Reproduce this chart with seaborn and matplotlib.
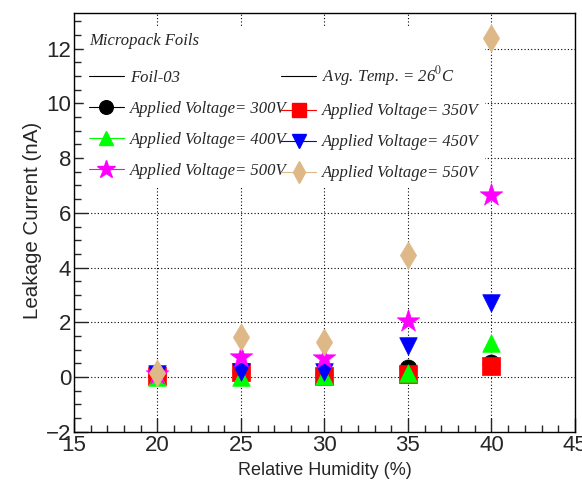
import matplotlib
matplotlib.use("Agg")
import matplotlib.pyplot as plt
import seaborn as sns
import pandas as pd
from matplotlib.lines import Line2D
from matplotlib.ticker import MultipleLocator

sns.set_theme(style="white")
plt.rcParams['font.family'] = ['Liberation Sans', 'DejaVu Sans']
plt.rcParams['mathtext.fontset'] = 'stix'

humidity = [20, 25, 30, 35, 40]
v300 = [0.05, 0.20, 0.10, 0.35, 0.50]
v350 = [0.05, 0.20, 0.05, 0.10, 0.40]
v400 = [0.00, 0.00, 0.05, 0.15, 1.25]
v450 = [0.10, 0.20, 0.20, 1.15, 2.70]
v500 = [0.10, 0.75, 0.70, 2.05, 6.65]
v550 = [0.15, 1.45, 1.30, 4.45, 12.40]

labels = ["Applied Voltage= 300V", "Applied Voltage= 350V", "Applied Voltage= 400V",
          "Applied Voltage= 450V", "Applied Voltage= 500V", "Applied Voltage= 550V"]
series = [v300, v350, v400, v450, v500, v550]
colors = ["black", "#ff0000", "#00ff00", "#0000ff", "#ff00ff", "#deb887"]
markers = ["o", "s", "^", "v", "*", "d"]
sizes = [150, 170, 160, 160, 290, 190]

fig = plt.figure(figsize=(5.82, 4.82), dpi=100)
ax = fig.add_axes([0.127, 0.104, 0.861, 0.869])

handles = {}
for lab, vals, c, m, s in zip(labels, series, colors, markers, sizes):
    df = pd.DataFrame({"x": humidity, "y": vals})
    sns.scatterplot(data=df, x="x", y="y", ax=ax, color=c, marker=m, s=s,
                    edgecolor=c, linewidth=0.5, legend=False, zorder=3)
    handles[lab] = Line2D([], [], color=c, marker=m, markersize=(s ** 0.5) * 0.8,
                          linewidth=0.8, markeredgecolor=c)

ax.set_xlim(15, 45)
ax.set_ylim(-2, 13.3)
ax.xaxis.set_major_locator(MultipleLocator(5))
ax.xaxis.set_minor_locator(MultipleLocator(1))
ax.yaxis.set_major_locator(MultipleLocator(2))
ax.yaxis.set_minor_locator(MultipleLocator(0.5))
ax.tick_params(axis='both', which='major', direction='in', length=10, width=1,
               labelsize=16, bottom=True, left=True, top=False, right=False, pad=2)
ax.tick_params(axis='both', which='minor', direction='in', length=5, width=1,
               bottom=True, left=True, top=False, right=False)
ax.grid(True, which='major', linestyle=(0, (1, 2)), color='black', linewidth=0.8)
ax.set_axisbelow(True)
for sp in ax.spines.values():
    sp.set_color('black')
    sp.set_linewidth(1.0)

ax.set_xlabel("Relative Humidity (%)", fontsize=13, labelpad=0)
ax.xaxis.set_label_coords(0.5, -0.072)
ax.set_ylabel("Leakage Current (nA)", fontsize=14.8)
ax.yaxis.set_label_coords(-0.064, 0.505)

blank = Line2D([], [], color='black', linewidth=0.8)
order_h = [blank, handles[labels[0]], handles[labels[2]], handles[labels[4]],
           Line2D([], [], color='black', linewidth=0.8), handles[labels[1]], handles[labels[3]], handles[labels[5]]]
order_l = ["Foil-03", labels[0], labels[2], labels[4],
           r"Avg. Temp. = 26$^{0}$C", labels[1], labels[3], labels[5]]
leg = ax.legend(order_h, order_l, ncol=2, loc='upper left', bbox_to_anchor=(0.01, 0.975),
                title="Micropack Foils", alignment='left', frameon=True,
                prop={'family': 'Liberation Serif', 'style': 'italic', 'size': 12},
                title_fontproperties={'family': 'Liberation Serif', 'style': 'italic', 'size': 12},
                handlelength=2.1, handletextpad=0.35, columnspacing=-0.3, labelspacing=0.9,
                borderpad=0.3, borderaxespad=0.3, fancybox=False)
leg.get_frame().set_edgecolor('white')
leg.get_frame().set_facecolor('white')
leg.get_frame().set_alpha(1.0)
leg.set_zorder(2.5)

fig.savefig("out.png", dpi=100)
